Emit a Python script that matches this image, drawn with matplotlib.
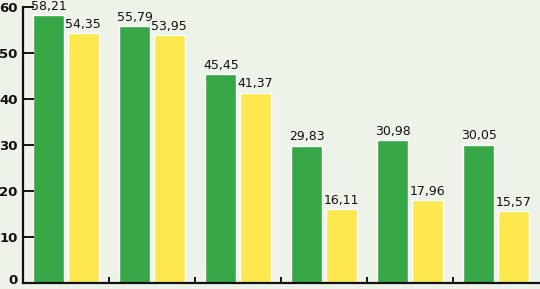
import numpy as np
import matplotlib.pyplot as plt
import matplotlib.transforms as mtrans

# values
groups = ["1", "2", "3", "4", "5", "6"]
green_vals = [58.21, 55.79, 45.45, 29.83, 30.98, 30.05]
yellow_vals = [54.35, 53.95, 41.37, 16.11, 17.96, 15.57]
yticks = [0, 10, 20, 30, 40, 50, 60]

bg = "#eef3ea"
green = "#37a748"
yellow = "#fce84e"

fig = plt.figure(figsize=(5.4, 2.89), dpi=100, facecolor=bg)
ax = fig.add_axes([23 / 540, 6 / 289, 516 / 540, 276 / 289], facecolor=bg)

x = np.arange(len(groups))
w = 0.36
b1 = ax.bar(x - 0.2, green_vals, w, color=green, edgecolor="white", linewidth=1)
b2 = ax.bar(x + 0.2, yellow_vals, w, color=yellow, edgecolor="white", linewidth=1)

def fmt(v):
    return ("%.2f" % v).replace(".", ",")

for bars, vals in ((b1, green_vals), (b2, yellow_vals)):
    for r, v in zip(bars, vals):
        ax.text(r.get_x() + r.get_width() / 2, v + 0.5, fmt(v),
                ha="center", va="bottom", fontsize=9, color="#111111")

ax.set_xlim(-0.5, 5.5)
ax.set_ylim(0, 60)

for s in ["top", "right"]:
    ax.spines[s].set_visible(False)
for s in ["left", "bottom"]:
    ax.spines[s].set_linewidth(1.6)
    ax.spines[s].set_color("#111111")
ax.spines["left"].set_bounds(0, 60)

ax.set_yticks(yticks)
ax.set_yticklabels([str(t) for t in yticks], fontweight="bold", fontsize=9.5)
ax.tick_params(axis="y", direction="in", length=8, width=1.4, pad=4, colors="#111111")

# keep the "0" label inside the picture
lab0 = ax.get_yticklabels()[0]
lab0.set_transform(lab0.get_transform() + mtrans.ScaledTranslation(0, 3 / 72, fig.dpi_scale_trans))

ax.set_xticks(x[:-1] + 0.5)
ax.set_xticklabels([])
ax.tick_params(axis="x", direction="in", length=4, width=1.4, colors="#111111")

fig.savefig("out.png", dpi=100, facecolor=bg)
